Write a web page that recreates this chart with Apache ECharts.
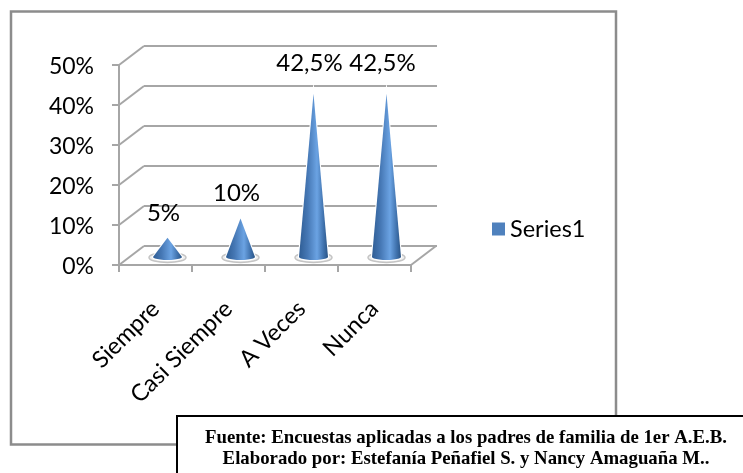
<!DOCTYPE html>
<html><head><meta charset="utf-8">
<style>html,body{margin:0;padding:0;background:#fff}#c{width:743px;height:473px}</style>
<script src="https://cdn.jsdelivr.net/npm/echarts@6/dist/echarts.min.js"></script>
</head><body><div id="c"></div>
<script>
const categories = ['Siempre', 'Casi Siempre', 'A Veces', 'Nunca'];
const values = [5, 10, 42.5, 42.5];
const yTicks = [0, 10, 20, 30, 40, 50];
const sourceLines = ['Fuente: Encuestas aplicadas a los padres de familia de 1er A.E.B.',
  'Elaborado por: Estefanía Peñafiel S. y Nancy Amaguaña M..'];

const GRID = '#A6A6A6', FONT = 'Lato, "Open Sans", sans-serif';
const DX = 25, DY = -19, BASE_RX = 14.5, BASE_RY = 3;
const chart = echarts.init(document.getElementById('c'));
const fmt = v => String(v).replace('.', ',') + '%';
const yAxisBase = {type: 'value', min: 0, max: 50, interval: 10};
const xAxisBase = {type: 'category', data: categories};

function renderCone(params, api) {
  const top = api.coord([api.value(0), api.value(1)]);
  const base = api.coord([api.value(0), 0]);
  const cx = base[0], yb = base[1];
  const pts = [[cx, top[1]]];
  for (let a = 0; a <= 180; a += 15) {
    const t = a * Math.PI / 180;
    pts.push([cx - BASE_RX * Math.cos(t), yb + BASE_RY * Math.sin(t)]);
  }
  return {type: 'group', children: [
    {type: 'ellipse', shape: {cx: cx, cy: yb + 0.5, rx: BASE_RX + 4, ry: BASE_RY + 2},
      style: {fill: '#EFEFEF', stroke: '#C4C4C4', lineWidth: 1.5}},
    {type: 'polygon', shape: {points: pts},
      style: {fill: '#fff', stroke: '#fff', lineWidth: 2.2, lineJoin: 'miter', miterLimit: 60}},
    {type: 'polygon', shape: {points: pts},
      style: {fill: new echarts.graphic.LinearGradient(0, 0, 1, 0, [
        {offset: 0, color: '#2F5D94'}, {offset: 0.3, color: '#4678B5'},
        {offset: 0.62, color: '#6BA3E3'}, {offset: 0.85, color: '#3F71AC'},
        {offset: 1, color: '#2A5485'}])}}
  ]};
}

function renderDepth(params, api) {
  const v = api.value(0);
  const p = api.coord([0, v]);
  const half = api.size([1, 0])[0] / 2;
  const x0 = p[0] - half;
  const kids = [{type: 'line', shape: {x1: x0, y1: p[1], x2: x0 + DX, y2: p[1] + DY},
    style: {stroke: GRID, lineWidth: 2}}];
  if (v === 0) {
    const end = api.coord([categories.length - 1, 0])[0] + half;
    kids.push({type: 'line', shape: {x1: end, y1: p[1], x2: end + DX, y2: p[1] + DY},
      style: {stroke: GRID, lineWidth: 2}});
  }
  return {type: 'group', children: kids};
}

chart.setOption({
  animation: false,
  backgroundColor: '#fff',
  textStyle: {fontFamily: FONT},
  grid: [
    {left: 119, top: 65, width: 292, height: 200},
    {left: 144, top: 46, width: 293, height: 200},
    {left: 131, top: 65, width: 292, height: 192},
    {left: 119, top: 67, width: 292, height: 200}
  ],
  xAxis: [
    Object.assign({}, xAxisBase, {gridIndex: 0,
      axisLine: {lineStyle: {color: GRID, width: 2}},
      axisTick: {show: true, length: 7, lineStyle: {color: GRID, width: 2}},
      axisLabel: {rotate: 45, interval: 0, margin: 40, fontSize: 23.5, color: '#000', fontFamily: FONT}}),
    Object.assign({}, xAxisBase, {gridIndex: 1, show: false}),
    Object.assign({}, xAxisBase, {gridIndex: 2, show: false}),
    Object.assign({}, xAxisBase, {gridIndex: 3, show: false})
  ],
  yAxis: [
    Object.assign({}, yAxisBase, {gridIndex: 0,
      axisLine: {show: true, lineStyle: {color: GRID, width: 2}},
      axisTick: {show: true, length: 7, lineStyle: {color: GRID, width: 2}},
      splitLine: {show: false}, axisLabel: {show: false}}),
    Object.assign({}, yAxisBase, {gridIndex: 1,
      axisLine: {show: false}, axisTick: {show: false}, axisLabel: {show: false},
      splitLine: {show: true, lineStyle: {color: GRID, width: 2}}}),
    Object.assign({}, yAxisBase, {gridIndex: 2, show: false, splitLine: {show: false}}),
    Object.assign({}, yAxisBase, {gridIndex: 3,
      axisLine: {show: false}, axisTick: {show: false}, splitLine: {show: false},
      axisLabel: {margin: 25, fontSize: 23, color: '#000', fontFamily: FONT, formatter: v => v + '%'}})
  ],
  legend: {data: ['Series1'], left: 487, top: 212, icon: 'rect', itemWidth: 13, itemHeight: 13, itemGap: 7,
    textStyle: {fontSize: 23.5, color: '#000', fontFamily: FONT}},
  series: [
    {name: 'depth', type: 'custom', xAxisIndex: 0, yAxisIndex: 0, silent: true, z: 1,
      data: yTicks.map(v => [v]), encode: {y: 0}, renderItem: renderDepth},
    {name: 'Series1', type: 'custom', xAxisIndex: 2, yAxisIndex: 2, z: 3,
      itemStyle: {color: '#4F81BD'},
      data: values.map((v, i) => [i, v]), encode: {x: 0, y: 1}, renderItem: renderCone},
    {name: 'labels', type: 'scatter', xAxisIndex: 0, yAxisIndex: 0, symbolSize: 0, silent: true, z: 4,
      itemStyle: {opacity: 1},
      data: values.map((v, i) => [i, v]),
      label: {show: true, position: 'top', distance: 0, offset: [8, -20], fontSize: 24, color: '#000',
        opacity: 1, textBorderWidth: 0, fontFamily: FONT, formatter: p => fmt(p.value[1])}}
  ],
  graphic: [
    {type: 'rect', z: -1, silent: true, shape: {x: 11, y: 11.5, width: 605, height: 433},
      style: {fill: '#fff', stroke: '#8C8C8C', lineWidth: 2.5}},
    {type: 'rect', z: 10, silent: true, shape: {x: 177, y: 416, width: 580, height: 70},
      style: {fill: '#fff', stroke: '#000', lineWidth: 2}},
    {type: 'text', z: 11, silent: true, style: {text: sourceLines[0], x: 466, y: 438, align: 'center', verticalAlign: 'middle',
      font: 'bold 18.8px "Liberation Serif", serif', fill: '#000'}},
    {type: 'text', z: 11, silent: true, style: {text: sourceLines[1], x: 466, y: 459, align: 'center', verticalAlign: 'middle',
      font: 'bold 18.8px "Liberation Serif", serif', fill: '#000'}}
  ]
});
</script></body></html>
